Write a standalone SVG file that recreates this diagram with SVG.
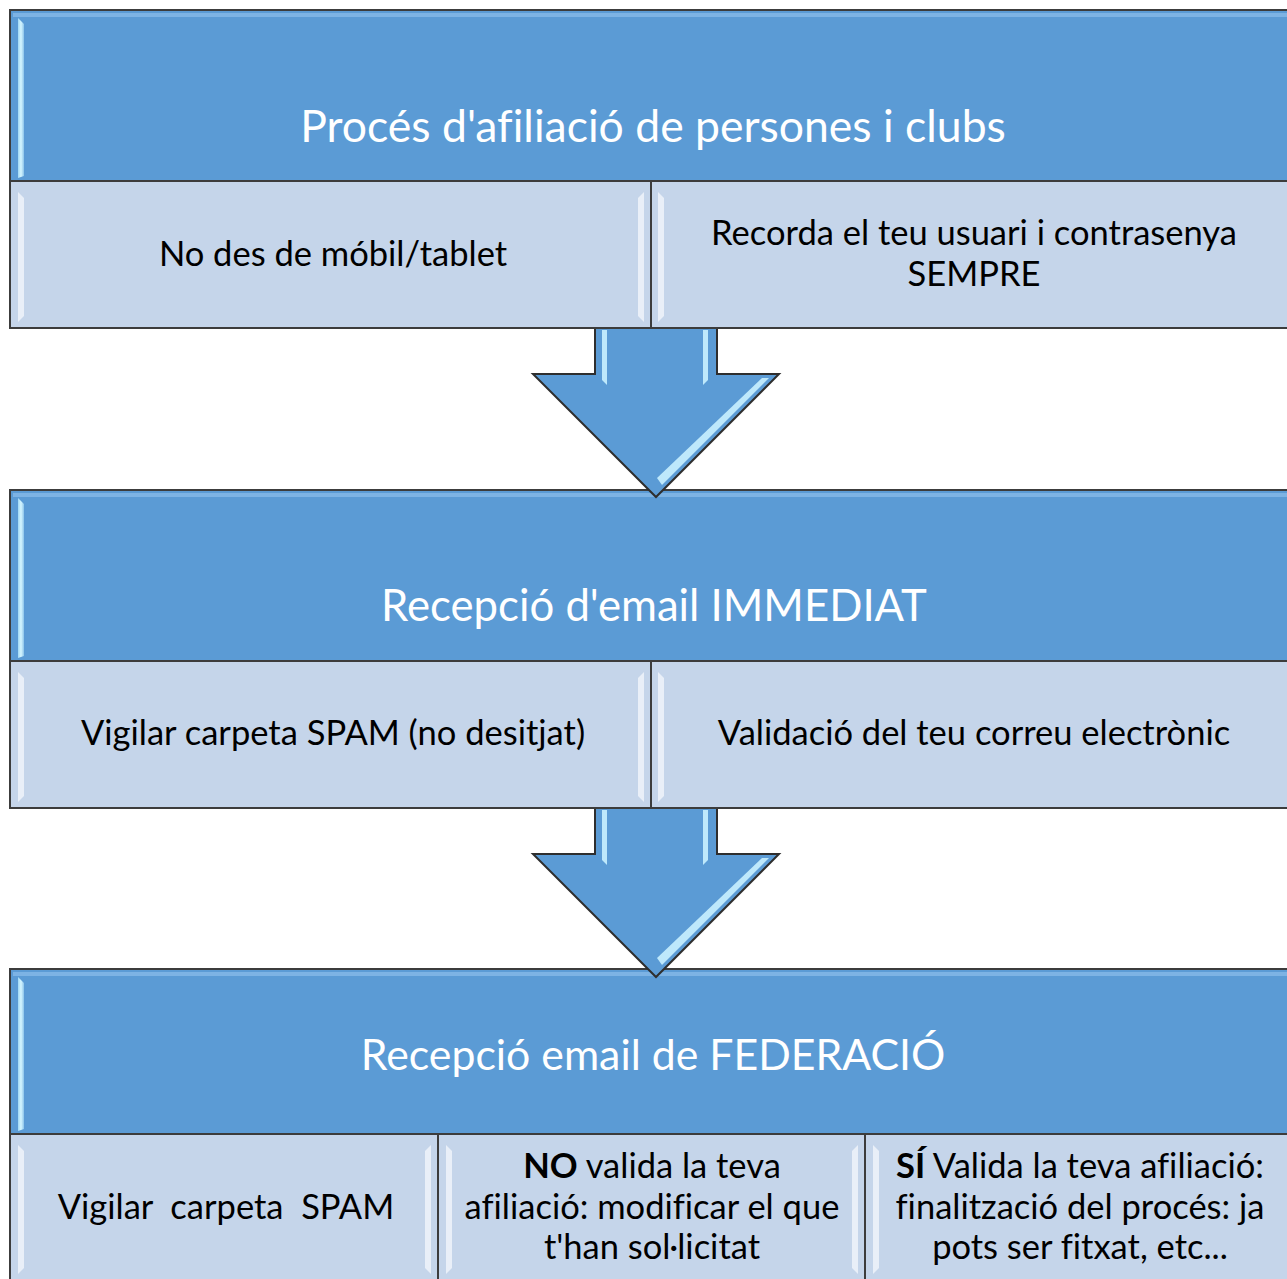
<svg xmlns="http://www.w3.org/2000/svg" width="1287" height="1279" viewBox="0 0 1287 1279">
<defs>
<style>
.hdr{fill:#5B9BD5;stroke:#3C3C3C;stroke-width:2}
.cell{fill:#C5D5EA;stroke:#3C3C3C;stroke-width:2}
.arrow{fill:#5B9BD5;stroke:#2E2E2E;stroke-width:2;stroke-linejoin:miter}
.ht{font-family:Lato,"Liberation Sans",sans-serif;font-size:44.5px;fill:#FFFFFF;text-anchor:middle;font-variant-ligatures:none}
.ct{font-family:Lato,"Liberation Sans",sans-serif;font-size:34.5px;fill:#000000;text-anchor:middle;white-space:pre;font-variant-ligatures:none}
.hlL{fill:url(#gL)}
.hlT{fill:#7DB3E4}
.chl{fill:#EEF3FA;opacity:0.85}
.ashl{fill:#C9F1FF;opacity:0.9}
.shadow{fill:none;stroke:#9A9A9A;stroke-width:3;opacity:0.6}
</style>
<linearGradient id="gL" x1="0" y1="0" x2="1" y2="0">
<stop offset="0" stop-color="#9FD8F5"/>
<stop offset="0.5" stop-color="#D6F6FF"/>
<stop offset="1" stop-color="#8CC4EA"/>
</linearGradient>
</defs>

<g id="header1">
<rect class="shadow" x="12" y="12" width="1287" height="171"/>
<rect class="hdr" x="10" y="10" width="1287" height="171"/>
<rect class="hlT" x="13" y="13" width="1284" height="4"/>
<polygon class="hlL" points="18,18 24,24 24,176 18,178"/>
<text class="ht" x="653" y="142">Procés d'afiliació de persones i clubs</text>
</g>
<g id="cell1a">
<rect class="cell" x="10" y="181" width="641" height="147"/>
<polygon class="chl" points="18,192 24,198 24,316 18,322"/>
<polygon class="chl" points="644,192 638,198 638,316 644,322"/>
<text class="ct" x="333" y="266">No des de móbil/tablet</text>
</g>
<g id="cell1b">
<rect class="cell" x="651" y="181" width="646" height="147"/>
<polygon class="chl" points="658,192 664,198 664,316 658,322"/>
<text class="ct" x="974" y="245">Recorda el teu usuari i contrasenya</text>
<text class="ct" x="974" y="286">SEMPRE</text>
</g>

<g id="header2">
<rect class="shadow" x="12" y="492" width="1287" height="171"/>
<rect class="hdr" x="10" y="490" width="1287" height="171"/>
<rect class="hlT" x="13" y="493" width="1284" height="4"/>
<polygon class="hlL" points="18,498 24,504 24,656 18,658"/>
<text class="ht" x="654" y="621" style="font-size:43.7px">Recepció d'email IMMEDIAT</text>
</g>
<g id="cell2a">
<rect class="cell" x="10" y="661" width="641" height="147"/>
<polygon class="chl" points="18,672 24,678 24,796 18,802"/>
<polygon class="chl" points="644,672 638,678 638,796 644,802"/>
<text class="ct" x="333" y="745">Vigilar carpeta SPAM (no desitjat)</text>
</g>
<g id="cell2b">
<rect class="cell" x="651" y="661" width="646" height="147"/>
<polygon class="chl" points="658,672 664,678 664,796 658,802"/>
<text class="ct" x="974" y="745">Validació del teu correu electrònic</text>
</g>

<g id="header3">
<rect class="shadow" x="12" y="971" width="1287" height="165"/>
<rect class="hdr" x="10" y="969" width="1287" height="165"/>
<rect class="hlT" x="13" y="972" width="1284" height="4"/>
<polygon class="hlL" points="18,977 24,983 24,1129 18,1131"/>
<text class="ht" x="653" y="1070" style="font-size:42.8px">Recepció email de FEDERACIÓ</text>
</g>
<g id="cell3a">
<rect class="cell" x="10" y="1134" width="428" height="150"/>
<polygon class="chl" points="18,1145 24,1151 24,1268 18,1274"/>
<polygon class="chl" points="431,1145 425,1151 425,1268 431,1274"/>
<text class="ct" x="226" y="1219">Vigilar  carpeta  SPAM</text>
</g>
<g id="cell3b">
<rect class="cell" x="438" y="1134" width="427" height="150"/>
<polygon class="chl" points="446,1145 452,1151 452,1268 446,1274"/>
<polygon class="chl" points="858,1145 852,1151 852,1268 858,1274"/>
<text class="ct" x="652" y="1178"><tspan font-weight="bold">NO</tspan> valida la teva</text>
<text class="ct" x="652" y="1219">afiliació: modificar el que</text>
<text class="ct" x="652" y="1259">t'han sol·licitat</text>
</g>
<g id="cell3c">
<rect class="cell" x="865" y="1134" width="432" height="150"/>
<polygon class="chl" points="873,1145 879,1151 879,1268 873,1274"/>
<text class="ct" x="1080" y="1178"><tspan font-weight="bold">SÍ</tspan> Valida la teva afiliació:</text>
<text class="ct" x="1080" y="1219">finalització del procés: ja</text>
<text class="ct" x="1080" y="1259">pots ser fitxat, etc...</text>
</g>

<g id="connectors">
<g id="arrow1">
<path class="arrow" d="M595,329 L595,374 L533,374 L656,497 L779,374 L717,374 L717,329"/>
<polygon class="ashl" points="602,330 607,330 607,385 602,380"/>
<polygon class="ashl" points="703,330 708,330 708,380 703,385"/>
<polygon class="ashl" points="762,378 769,378 662,485 657,478" opacity="0.6"/>
</g>
<g id="arrow2">
<path class="arrow" d="M595,809 L595,854 L533,854 L656,977 L779,854 L717,854 L717,809"/>
<polygon class="ashl" points="602,810 607,810 607,865 602,860"/>
<polygon class="ashl" points="703,810 708,810 708,860 703,865"/>
<polygon class="ashl" points="762,858 769,858 662,965 657,958" opacity="0.6"/>
</g>
</g>
</svg>
